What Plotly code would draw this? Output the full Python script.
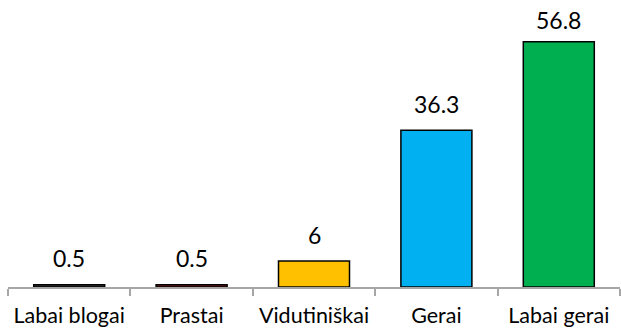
import plotly.graph_objects as go

categories = ["Labai blogai", "Prastai", "Vidutiniškai", "Gerai", "Labai gerai"]
values = [0.5, 0.5, 6, 36.3, 56.8]
colors = ["#3a3a3a", "#7f1f1f", "#FFC000", "#00B0F0", "#00B050"]

FONT = "Lato"
W, H = 621, 329
M = dict(l=8, r=1, t=28, b=42)
Y_MAX = 60
LABEL_GAP = 26.5      # px between bar top and label centre
LABEL_MIN_TOP = 20.5  # keep label centres at least this far from the top edge

fig = go.Figure(
    go.Bar(
        x=categories,
        y=values,
        marker=dict(color=colors, line=dict(color="#000000", width=1.5)),
        width=0.58,
        cliponaxis=False,
        hoverinfo="x+y",
    )
)

# value labels above bars, nudged down when they would run into the top edge
plot_h = H - M["t"] - M["b"]
for cat, v in zip(categories, values):
    top_px = M["t"] + plot_h * (1 - v / Y_MAX)
    shift = min(LABEL_GAP, top_px - LABEL_MIN_TOP)
    fig.add_annotation(
        x=cat, y=v, xref="x", yref="y",
        text=f"{v:g}", showarrow=False,
        yanchor="middle", yshift=shift,
        font=dict(family=FONT, size=23, color="#000000"),
    )

fig.update_layout(
    width=W,
    height=H,
    margin=M,
    paper_bgcolor="white",
    plot_bgcolor="white",
    showlegend=False,
    xaxis=dict(
        showline=True,
        linecolor="#A6A6A6",
        linewidth=1.5,
        ticks="outside",
        tickson="boundaries",
        ticklen=7,
        tickcolor="#A6A6A6",
        tickwidth=1.5,
        ticklabelstandoff=8,
        tickangle=0,
        automargin=False,
        tickfont=dict(family=FONT, size=21.5, color="#000000"),
        range=[-0.5, 4.5],
    ),
    yaxis=dict(
        range=[0, Y_MAX],
        visible=False,
        showgrid=False,
        zeroline=False,
        automargin=False,
    ),
)

fig.write_html("out.html")
